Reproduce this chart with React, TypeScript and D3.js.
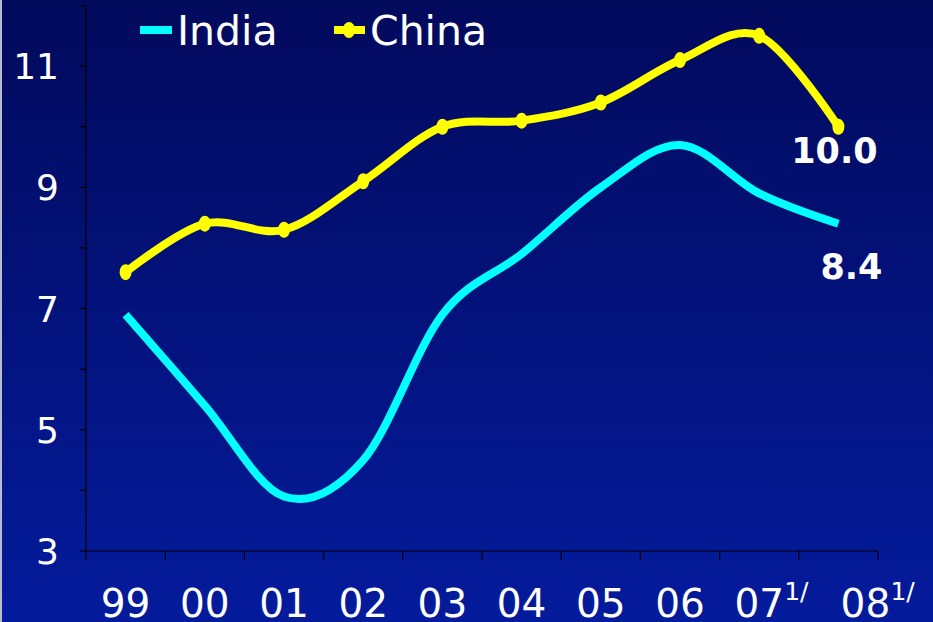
import React from "react";
import * as d3 from "d3";

const W = 933;
const H = 622;

const years = ["99", "00", "01", "02", "03", "04", "05", "06", "07", "08"];
const yearNotes = ["", "", "", "", "", "", "", "", "1/", "1/"];
const india = [6.9, 5.4, 3.9, 4.5, 6.9, 7.9, 9.0, 9.7, 8.9, 8.4];
const china = [7.6, 8.4, 8.3, 9.1, 10.0, 10.1, 10.4, 11.1, 11.5, 10.0];
const yTickLabels = [3, 5, 7, 9, 11];
const yTicks = [3, 4, 5, 6, 7, 8, 9, 10, 11, 12];

const INDIA_COLOR = "#00ffff";
const CHINA_COLOR = "#ffff00";
const FONT = "'DejaVu Sans', Verdana, sans-serif";

export default function App() {
  const x = d3.scaleBand<string>().domain(years).range([86, 878]).padding(0);
  const y = d3.scaleLinear().domain([3, 12]).range([551, 5.5]);
  const cx = (i: number) => (x(years[i]) as number) + x.bandwidth() / 2;

  const line = d3
    .line<number>()
    .x((_, i) => cx(i))
    .y((d) => y(d))
    .curve(d3.curveCatmullRom.alpha(0));

  const bandEdges = [...years.map((c) => x(c) as number), 878];
  const last = years.length - 1;
  // the final label is nudged right so its note does not crowd the previous one
  const labelShift = (i: number) => (i === last ? 27 : 0);

  return (
    <svg
      width={W}
      height={H}
      style={{ position: "absolute", left: 0, top: 0, display: "block" }}
      fontFamily={FONT}
    >
      <defs>
        <linearGradient id="bg" x1="0" y1="0" x2="0" y2="1">
          <stop offset="0" stopColor="#020a5c" />
          <stop offset="1" stopColor="#041b9c" />
        </linearGradient>
      </defs>
      <rect x={0} y={0} width={W} height={H} fill="url(#bg)" />
      <rect x={0} y={0} width={2} height={H} fill="#b8bcd0" />

      {/* axes */}
      <line x1={86} x2={86} y1={y(12)} y2={y(3)} stroke="#000" strokeWidth={1.2} />
      <line x1={86} x2={878} y1={y(3)} y2={y(3)} stroke="#000" strokeWidth={1.2} />
      {yTicks.map((t) => (
        <line key={"yt" + t} x1={80} x2={86} y1={y(t)} y2={y(t)} stroke="#000" strokeWidth={1.2} />
      ))}
      {bandEdges.map((e, i) => (
        <line key={"xt" + i} x1={e} x2={e} y1={y(3)} y2={y(3) + 9} stroke="#000" strokeWidth={1.2} />
      ))}

      {yTickLabels.map((t) => (
        <text
          key={"yl" + t}
          x={59}
          y={y(t)}
          dy="0.36em"
          textAnchor="end"
          fontSize={36}
          fill="#fff"
        >
          {t}
        </text>
      ))}

      {years.map((c, i) => (
        <g key={"xl" + c}>
          <text x={cx(i) + labelShift(i)} y={617} textAnchor="middle" fontSize={39} fill="#fff">
            {c}
          </text>
          {yearNotes[i] && (
            <text
              x={cx(i) + labelShift(i) + 25}
              y={600}
              textAnchor="start"
              fontSize={25}
              fill="#fff"
            >
              {yearNotes[i]}
            </text>
          )}
        </g>
      ))}

      {/* series */}
      <path d={line(india) ?? ""} fill="none" stroke={INDIA_COLOR} strokeWidth={8} strokeLinejoin="round" />
      <path d={line(china) ?? ""} fill="none" stroke={CHINA_COLOR} strokeWidth={8} strokeLinejoin="round" strokeLinecap="round" />
      {china.map((v, i) => (
        <ellipse key={"cm" + i} cx={cx(i)} cy={y(v)} rx={6} ry={8} fill={CHINA_COLOR} />
      ))}

      {/* end values */}
      <text
        x={cx(last) - 4}
        y={y(china[last]) + 36}
        textAnchor="middle"
        fontSize={35}
        fontWeight="bold"
        fill="#fff"
      >
        {china[last].toFixed(1)}
      </text>
      <text
        x={cx(last) + 13}
        y={y(india[last]) + 55}
        textAnchor="middle"
        fontSize={35}
        fontWeight="bold"
        fill="#fff"
      >
        {india[last].toFixed(1)}
      </text>

      {/* legend */}
      <line x1={140} x2={172} y1={30} y2={30} stroke={INDIA_COLOR} strokeWidth={8} />
      <text x={177} y={45} fontSize={41} fill="#fff">
        India
      </text>
      <line x1={334} x2={365} y1={30} y2={30} stroke={CHINA_COLOR} strokeWidth={8} />
      <ellipse cx={349} cy={30} rx={6} ry={8} fill={CHINA_COLOR} />
      <text x={370} y={45} fontSize={41} fill="#fff">
        China
      </text>
    </svg>
  );
}
